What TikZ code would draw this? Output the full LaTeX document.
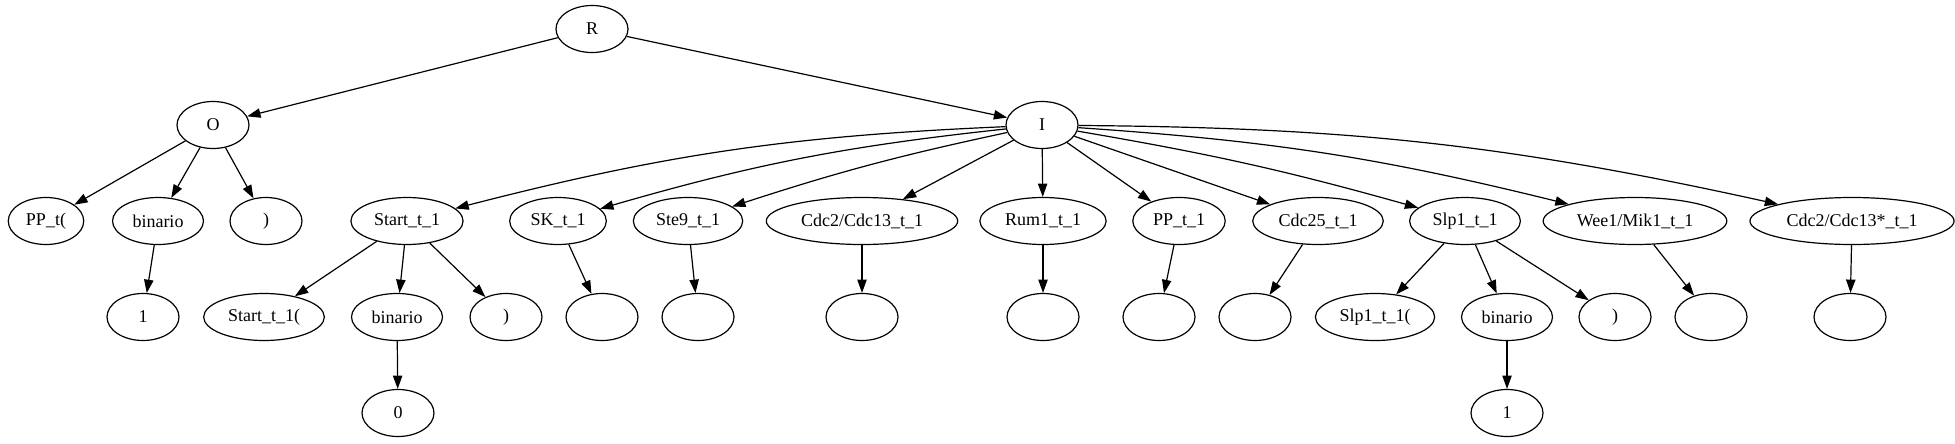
\documentclass[tikz,border=0pt]{standalone}
\usepackage{fontspec}
\setmainfont{Liberation Serif}
\usetikzlibrary{shapes.geometric, arrows.meta}

\begin{document}
\begin{tikzpicture}[x = 0.75pt, y = -0.75pt, line width = 0.9pt,
	> = {Triangle[length = 10pt, width = 7pt]},
	tok/.style = {draw, ellipse, minimum width = 54pt, minimum height = 35.25pt,
		inner xsep = 5pt, inner ysep = 2pt, font = \fontsize{13.5}{16}\selectfont}]

	\useasboundingbox (0, 0) rectangle (1955, 443);

	% Root and its two branches

	\node [tok] (R) at (592, 29) {R};
	\node [tok] (O) at (213, 125) {O};
	\node [tok] (I) at (1042, 125) {I};

	% Second level

	\node [tok] (ppt) at (46, 221) {PP\_t(};
	\node [tok] (obin) at (158, 221) {binario};
	\node [tok] (oclose) at (266, 221) {)};
	\node [tok] (start) at (407, 221) {Start\_t\_1};
	\node [tok] (sk) at (558, 221) {SK\_t\_1};
	\node [tok] (ste) at (688, 221) {Ste9\_t\_1};
	\node [tok] (cdc) at (862, 221) {Cdc2/Cdc13\_t\_1};
	\node [tok] (rum) at (1043, 221) {Rum1\_t\_1};
	\node [tok] (pp) at (1179, 221) {PP\_t\_1};
	\node [tok] (cdcq) at (1318, 221) {Cdc25\_t\_1};
	\node [tok] (slp) at (1465, 221) {Slp1\_t\_1};
	\node [tok] (wee) at (1635, 221) {Wee1/Mik1\_t\_1};
	\node [tok] (cdcs) at (1852, 221) {Cdc2/Cdc13*\_t\_1};

	% Third level

	\node [tok] (ob1) at (143, 317) {1};
	\node [tok] (startopen) at (264, 317) {Start\_t\_1(};
	\node [tok] (sbin) at (397, 317) {binario};
	\node [tok] (sclose) at (506, 317) {)};
	\node [tok] (ske) at (602, 317) {};
	\node [tok] (stee) at (698, 317) {};
	\node [tok] (cdce) at (862, 317) {};
	\node [tok] (rume) at (1043, 317) {};
	\node [tok] (ppe) at (1159, 317) {};
	\node [tok] (cdcqe) at (1255, 317) {};
	\node [tok] (slpopen) at (1375, 317) {Slp1\_t\_1(};
	\node [tok] (lbin) at (1507, 317) {binario};
	\node [tok] (lclose) at (1615, 317) {)};
	\node [tok] (weee) at (1711, 317) {};
	\node [tok] (cdcse) at (1850, 317) {};

	% Fourth level

	\node [tok] (s0) at (398, 413) {0};
	\node [tok] (l1) at (1507, 413) {1};

	% Edges from the root

	\draw [->] (R) -- (O);
	\draw [->] (R) -- (I);

	% Edges from O

	\draw [->] (O) -- (ppt);
	\draw [->] (O) -- (obin);
	\draw [->] (O) -- (oclose);
	\draw [->] (obin) -- (ob1);

	% Edges from I

	\draw [->] (I) to [bend right = 6] (start);
	\draw [->] (I) to [bend right = 5] (sk);
	\draw [->] (I) to [bend right = 3] (ste);
	\draw [->] (I) -- (cdc);
	\draw [->] (I) -- (rum);
	\draw [->] (I) -- (pp);
	\draw [->] (I) -- (cdcq);
	\draw [->] (I) to [bend left = 3] (slp);
	\draw [->] (I) to [bend left = 5] (wee);
	\draw [->] (I) to [bend left = 6] (cdcs);

	% Edges below the second level

	\draw [->] (start) -- (startopen);
	\draw [->] (start) -- (sbin);
	\draw [->] (start) -- (sclose);
	\draw [->] (sbin) -- (s0);
	\draw [->] (sk) -- (ske);
	\draw [->] (ste) -- (stee);
	\draw [->] (cdc) -- (cdce);
	\draw [->] (rum) -- (rume);
	\draw [->] (pp) -- (ppe);
	\draw [->] (cdcq) -- (cdcqe);
	\draw [->] (slp) -- (slpopen);
	\draw [->] (slp) -- (lbin);
	\draw [->] (slp) -- (lclose);
	\draw [->] (lbin) -- (l1);
	\draw [->] (wee) -- (weee);
	\draw [->] (cdcs) -- (cdcse);

\end{tikzpicture}
\end{document}
